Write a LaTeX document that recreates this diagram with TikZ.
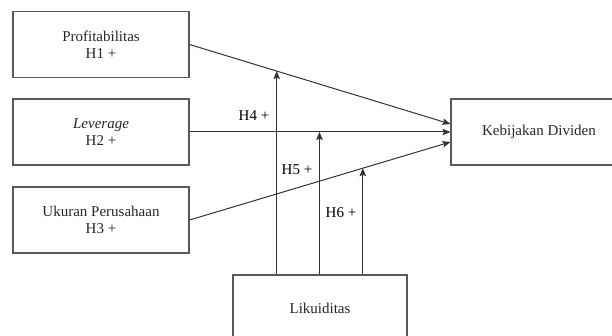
\documentclass[tikz,border=0pt]{standalone}
\usepackage{fontspec}
\setmainfont{Liberation Serif}
\usepackage{tikz}
\usetikzlibrary{arrows.meta}
\usetikzlibrary{positioning}
\tikzset{
    varbox/.style = {rectangle, draw=black!65, line width=1.1pt, align=center, minimum width=176pt, minimum height=66pt, inner sep=0pt, text=black!85},
    conn/.style = {-{Stealth[length=8pt,width=6.5pt,inset=1.5pt]}, line width=1pt, draw=black!80},
}

\begin{document}
\begin{tikzpicture}[
	x=1pt,
	y=-1pt,
	font=\fontsize{15}{17}\selectfont
]
\useasboundingbox (0,0) rectangle (612,336);
\node[varbox] at (101,44.5) (prof) {Profitabilitas\\H1 +};
\node[varbox] at (101,132) (lev) {\textit{Leverage}\\H2 +};
\node[varbox] at (101,220) (uk) {Ukuran Perusahaan\\H3 +};
\node[varbox] at (539,132) (keb) {Kebijakan Dividen};
\node[varbox, minimum width=174pt] at (320,308) (lik) {Likuiditas};
%
\coordinate (k1) at ([yshift=8pt]keb.west);
\coordinate (k3) at ([yshift=-10pt]keb.west);
\draw[conn] (prof.east) -- (k1) coordinate[pos=0.334] (m1);
\draw[conn] (lev.east) -- (keb.west) coordinate[pos=0.498] (m2);
\draw[conn] (uk.east) -- (k3) coordinate[pos=0.664] (m3);
%
\draw[conn] (lik.north -| m1) -- (m1);
\draw[conn] (lik.north -| m2) -- (m2);
\draw[conn] (lik.north -| m3) -- (m3);
%
\node at (254,116) (h4) {H4 +};
\node at (297,170) (h5) {H5 +};
\node at (341,213) (h6) {H6 +};
\end{tikzpicture}
\end{document}
